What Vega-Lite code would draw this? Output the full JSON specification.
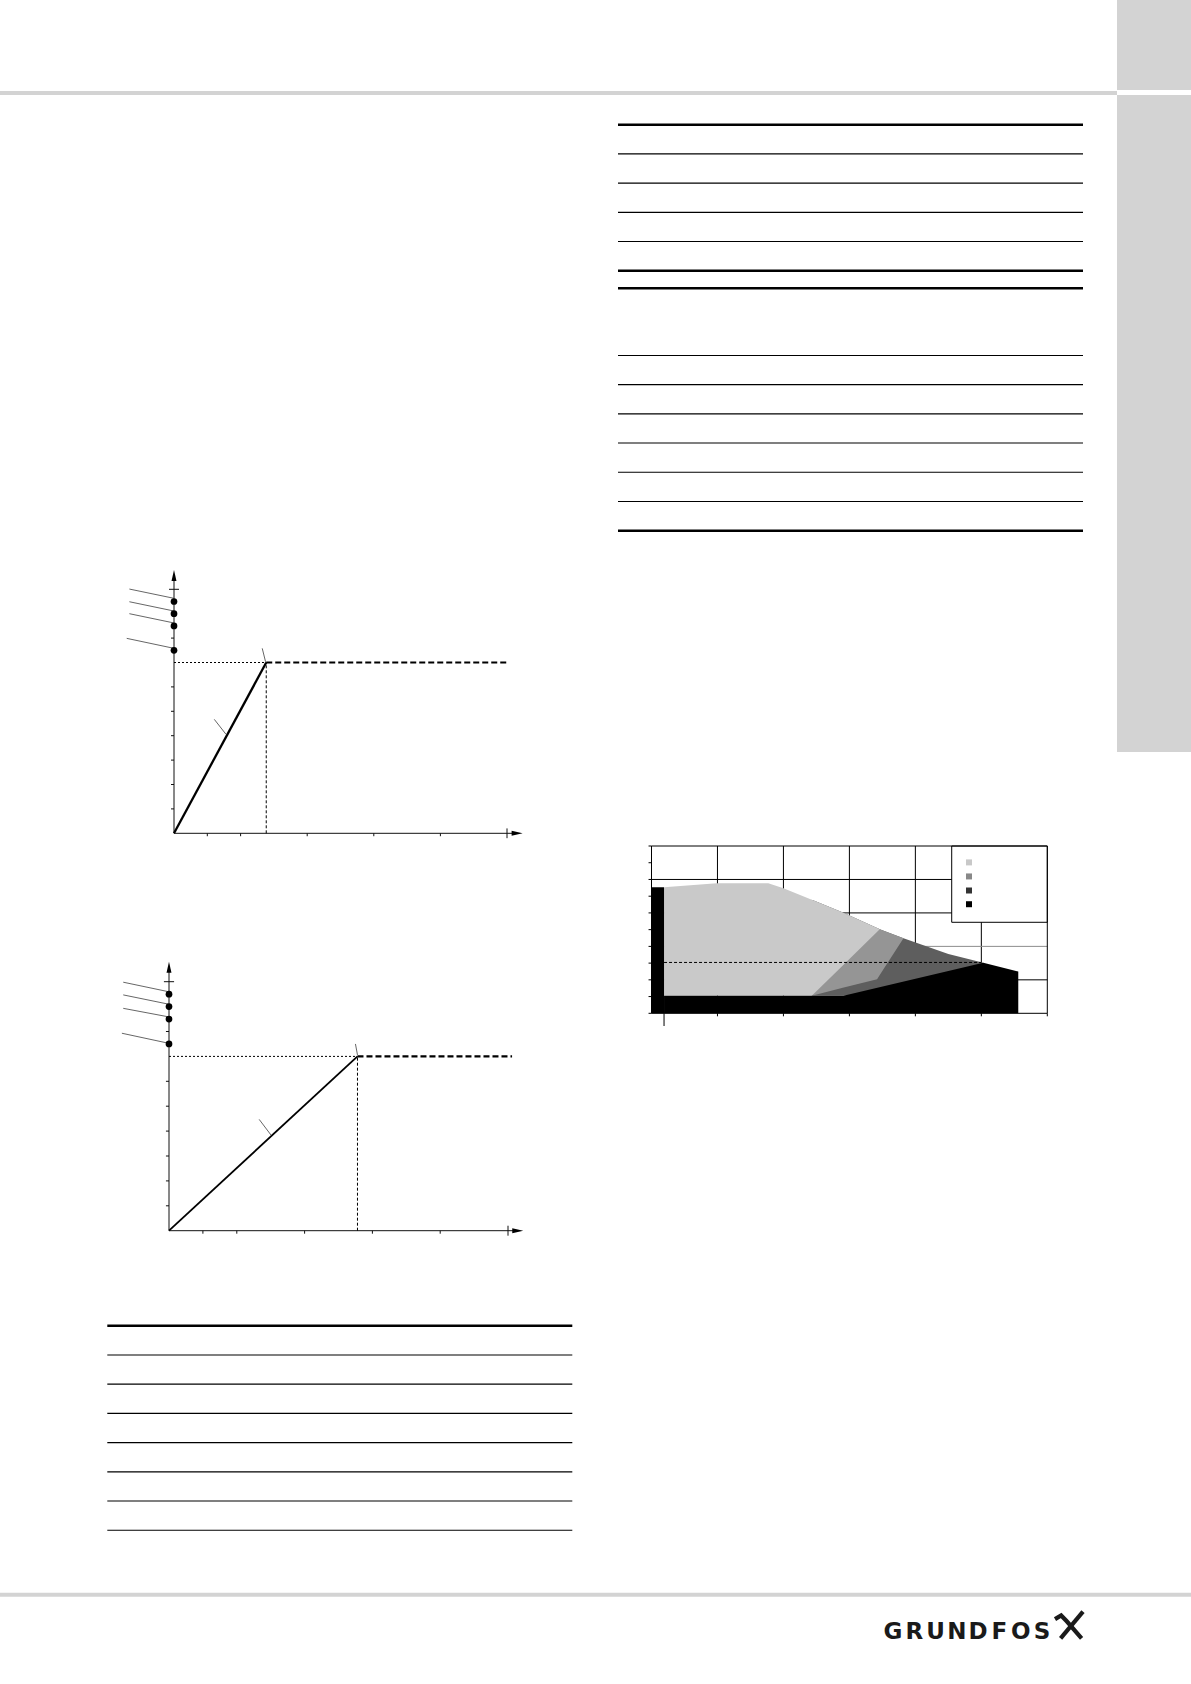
{
  "$schema": "https://vega.github.io/schema/vega-lite/v6.json",
  "width": 1191,
  "height": 1684,
  "autosize": {"type": "none"},
  "padding": 0,
  "background": "white",
  "config": {"view": {"stroke": null}},
  "resolve": {"scale": {"x": "independent", "y": "independent"}},
  "layer": [
    {
      "data": {"values": [{}]},
      "mark": {"type": "rect", "color": "#d3d3d3"},
      "encoding": {
        "x": {"datum": 0, "type": "quantitative", "scale": {"domain": [0, 1], "range": [1117, 1191]}, "axis": null},
        "x2": {"datum": 1},
        "y": {"datum": 0, "type": "quantitative", "scale": {"domain": [0, 1], "range": [0, 90]}, "axis": null},
        "y2": {"datum": 1}
      }
    },
    {
      "data": {"values": [{}]},
      "mark": {"type": "rect", "color": "#d3d3d3"},
      "encoding": {
        "x": {"datum": 0, "type": "quantitative", "scale": {"domain": [0, 1], "range": [1117, 1191]}, "axis": null},
        "x2": {"datum": 1},
        "y": {"datum": 0, "type": "quantitative", "scale": {"domain": [0, 1], "range": [95, 752]}, "axis": null},
        "y2": {"datum": 1}
      }
    },
    {
      "data": {"values": [{}]},
      "mark": {"type": "rect", "color": "#d3d3d3"},
      "encoding": {
        "x": {"datum": 0, "type": "quantitative", "scale": {"domain": [0, 1], "range": [0, 1117]}, "axis": null},
        "x2": {"datum": 1},
        "y": {"datum": 0, "type": "quantitative", "scale": {"domain": [0, 1], "range": [91, 95]}, "axis": null},
        "y2": {"datum": 1}
      }
    },
    {
      "data": {"values": [{}]},
      "mark": {"type": "rect", "color": "#d3d3d3"},
      "encoding": {
        "x": {"datum": 0, "type": "quantitative", "scale": {"domain": [0, 1], "range": [0, 1191]}, "axis": null},
        "x2": {"datum": 1},
        "y": {"datum": 0, "type": "quantitative", "scale": {"domain": [0, 1], "range": [1592.7, 1596.7]}, "axis": null},
        "y2": {"datum": 1}
      }
    },
    {
      "data": {
        "values": [
          {"r": 0, "kind": "edge"},
          {"r": 1, "kind": "row"},
          {"r": 2, "kind": "row"},
          {"r": 3, "kind": "row"},
          {"r": 4, "kind": "row"},
          {"r": 5, "kind": "edge"},
          {"r": 5.6, "kind": "edge"},
          {"r": 7.9, "kind": "row"},
          {"r": 8.9, "kind": "row"},
          {"r": 9.9, "kind": "row"},
          {"r": 10.9, "kind": "row"},
          {"r": 11.9, "kind": "row"},
          {"r": 12.9, "kind": "row"},
          {"r": 13.9, "kind": "edge"}
        ]
      },
      "encoding": {
        "x": {"datum": 0, "type": "quantitative", "scale": {"domain": [0, 1], "range": [618, 1083]}, "axis": null},
        "x2": {"datum": 1},
        "y": {"field": "r", "type": "quantitative", "scale": {"domain": [0, 13.9], "range": [124.7, 530.7], "nice": false, "zero": false}, "axis": null}
      },
      "layer": [
        {"transform": [{"filter": "datum.kind == 'edge'"}], "mark": {"type": "rule", "color": "black", "strokeWidth": 2.4}},
        {"transform": [{"filter": "datum.kind == 'row'"}], "mark": {"type": "rule", "color": "black", "strokeWidth": 1.1}}
      ]
    },
    {
      "data": {
        "values": [
          {"r": 0, "kind": "edge"},
          {"r": 1, "kind": "row"},
          {"r": 2, "kind": "row"},
          {"r": 3, "kind": "row"},
          {"r": 4, "kind": "row"},
          {"r": 5, "kind": "row"},
          {"r": 6, "kind": "row"},
          {"r": 7, "kind": "row"}
        ]
      },
      "encoding": {
        "x": {"datum": 0, "type": "quantitative", "scale": {"domain": [0, 1], "range": [107.3, 572.3]}, "axis": null},
        "x2": {"datum": 1},
        "y": {"field": "r", "type": "quantitative", "scale": {"domain": [0, 7], "range": [1325.7, 1530.3], "nice": false, "zero": false}, "axis": null}
      },
      "layer": [
        {"transform": [{"filter": "datum.kind == 'edge'"}], "mark": {"type": "rule", "color": "black", "strokeWidth": 2.4}},
        {"transform": [{"filter": "datum.kind == 'row'"}], "mark": {"type": "rule", "color": "black", "strokeWidth": 1.1}}
      ]
    },
    {
      "encoding": {
        "x": {"field": "x", "type": "quantitative", "scale": {"domain": [0, 100], "range": [174, 507], "nice": false, "zero": false}, "axis": null},
        "y": {"field": "y", "type": "quantitative", "scale": {"domain": [0, 100], "range": [833.3, 589.3], "nice": false, "zero": false}, "axis": null}
      },
      "layer": [
        {
          "data": {
            "values": [
              {"x": 0, "y": 0, "x2": 103, "y2": 0},
              {"x": 0, "y": 0, "x2": 0, "y2": 106},
              {"x": 100, "y": -2, "x2": 100, "y2": 2},
              {"x": -1.5, "y": 100, "x2": 1.5, "y2": 100},
              {"x": 10, "y": 0, "x2": 10, "y2": -1.2},
              {"x": 20, "y": 0, "x2": 20, "y2": -1.2},
              {"x": 40, "y": 0, "x2": 40, "y2": -1.2},
              {"x": 60, "y": 0, "x2": 60, "y2": -1.2},
              {"x": 80, "y": 0, "x2": 80, "y2": -1.2},
              {"x": 0, "y": 10, "x2": -0.9, "y2": 10},
              {"x": 0, "y": 20, "x2": -0.9, "y2": 20},
              {"x": 0, "y": 30, "x2": -0.9, "y2": 30},
              {"x": 0, "y": 40, "x2": -0.9, "y2": 40},
              {"x": 0, "y": 50, "x2": -0.9, "y2": 50},
              {"x": 0, "y": 60, "x2": -0.9, "y2": 60},
              {"x": 0, "y": 80, "x2": -0.9, "y2": 80}
            ]
          },
          "mark": {"type": "rule", "color": "#111111", "strokeWidth": 1},
          "encoding": {"x2": {"field": "x2"}, "y2": {"field": "y2"}}
        },
        {
          "data": {"values": [{"x": 104.7, "y": 0}]},
          "mark": {"type": "point", "shape": "M0,0L-2,-0.45L-2,0.45Z", "size": 121, "filled": true, "color": "black", "opacity": 1}
        },
        {
          "data": {"values": [{"x": 0, "y": 107.9}]},
          "mark": {"type": "point", "shape": "M0,0L-0.45,2L0.45,2Z", "size": 121, "filled": true, "color": "black", "opacity": 1}
        },
        {
          "data": {"values": [{"x": 0, "y": 70, "x2": 27.7, "y2": 70}]},
          "mark": {"type": "rule", "color": "black", "strokeWidth": 1, "strokeDash": [2, 2]},
          "encoding": {"x2": {"field": "x2"}, "y2": {"field": "y2"}}
        },
        {
          "data": {"values": [{"x": 27.7, "y": 0, "x2": 27.7, "y2": 70}]},
          "mark": {"type": "rule", "color": "black", "strokeWidth": 1, "strokeDash": [3, 2]},
          "encoding": {"x2": {"field": "x2"}, "y2": {"field": "y2"}}
        },
        {
          "data": {"values": [{"x": 27.7, "y": 70, "x2": 100.6, "y2": 70}]},
          "mark": {"type": "rule", "color": "black", "strokeWidth": 2.2, "strokeDash": [6, 3]},
          "encoding": {"x2": {"field": "x2"}, "y2": {"field": "y2"}}
        },
        {
          "data": {"values": [{"x": 0, "y": 0}, {"x": 27.7, "y": 70}]},
          "mark": {"type": "line", "color": "black", "strokeWidth": 2.3}
        },
        {
          "data": {
            "values": [
              {"x": -13.4, "y": 100.1, "x2": 0, "y2": 96.3},
              {"x": -13.4, "y": 94.9, "x2": 0, "y2": 91.1},
              {"x": -13.4, "y": 90, "x2": 0, "y2": 86.2},
              {"x": -14.2, "y": 79.9, "x2": 0, "y2": 75.8},
              {"x": 12.1, "y": 46.7, "x2": 15.6, "y2": 40.6},
              {"x": 26.5, "y": 75.8, "x2": 27.5, "y2": 70.3}
            ]
          },
          "mark": {"type": "rule", "color": "#555555", "strokeWidth": 0.9},
          "encoding": {"x2": {"field": "x2"}, "y2": {"field": "y2"}}
        },
        {
          "data": {"values": [{"x": 0, "y": 95}, {"x": 0, "y": 90}, {"x": 0, "y": 85}, {"x": 0, "y": 75}]},
          "mark": {"type": "circle", "size": 45, "color": "black", "opacity": 1}
        }
      ]
    },
    {
      "encoding": {
        "x": {"field": "x", "type": "quantitative", "scale": {"domain": [0, 100], "range": [169, 508], "nice": false, "zero": false}, "axis": null},
        "y": {"field": "y", "type": "quantitative", "scale": {"domain": [0, 100], "range": [1230.7, 981.7], "nice": false, "zero": false}, "axis": null}
      },
      "layer": [
        {
          "data": {
            "values": [
              {"x": 0, "y": 0, "x2": 103, "y2": 0},
              {"x": 0, "y": 0, "x2": 0, "y2": 106},
              {"x": 100, "y": -2, "x2": 100, "y2": 2},
              {"x": -1.5, "y": 100, "x2": 1.5, "y2": 100},
              {"x": 10, "y": 0, "x2": 10, "y2": -1.2},
              {"x": 20, "y": 0, "x2": 20, "y2": -1.2},
              {"x": 40, "y": 0, "x2": 40, "y2": -1.2},
              {"x": 60, "y": 0, "x2": 60, "y2": -1.2},
              {"x": 80, "y": 0, "x2": 80, "y2": -1.2},
              {"x": 0, "y": 10, "x2": -0.9, "y2": 10},
              {"x": 0, "y": 20, "x2": -0.9, "y2": 20},
              {"x": 0, "y": 30, "x2": -0.9, "y2": 30},
              {"x": 0, "y": 40, "x2": -0.9, "y2": 40},
              {"x": 0, "y": 50, "x2": -0.9, "y2": 50},
              {"x": 0, "y": 60, "x2": -0.9, "y2": 60},
              {"x": 0, "y": 80, "x2": -0.9, "y2": 80}
            ]
          },
          "mark": {"type": "rule", "color": "#111111", "strokeWidth": 1},
          "encoding": {"x2": {"field": "x2"}, "y2": {"field": "y2"}}
        },
        {
          "data": {"values": [{"x": 104.5, "y": 0}]},
          "mark": {"type": "point", "shape": "M0,0L-2,-0.45L-2,0.45Z", "size": 121, "filled": true, "color": "black", "opacity": 1}
        },
        {
          "data": {"values": [{"x": 0, "y": 108}]},
          "mark": {"type": "point", "shape": "M0,0L-0.45,2L0.45,2Z", "size": 121, "filled": true, "color": "black", "opacity": 1}
        },
        {
          "data": {"values": [{"x": 0, "y": 70, "x2": 55.6, "y2": 70}]},
          "mark": {"type": "rule", "color": "black", "strokeWidth": 1, "strokeDash": [2, 2]},
          "encoding": {"x2": {"field": "x2"}, "y2": {"field": "y2"}}
        },
        {
          "data": {"values": [{"x": 55.6, "y": 0, "x2": 55.6, "y2": 70}]},
          "mark": {"type": "rule", "color": "black", "strokeWidth": 1, "strokeDash": [3, 2]},
          "encoding": {"x2": {"field": "x2"}, "y2": {"field": "y2"}}
        },
        {
          "data": {"values": [{"x": 55.6, "y": 70, "x2": 101.2, "y2": 70}]},
          "mark": {"type": "rule", "color": "black", "strokeWidth": 2.2, "strokeDash": [6, 3]},
          "encoding": {"x2": {"field": "x2"}, "y2": {"field": "y2"}}
        },
        {
          "data": {"values": [{"x": 0, "y": 0}, {"x": 55.6, "y": 70}]},
          "mark": {"type": "line", "color": "black", "strokeWidth": 1.8}
        },
        {
          "data": {
            "values": [
              {"x": -13.5, "y": 99.8, "x2": -0.2, "y2": 96},
              {"x": -13.5, "y": 94.7, "x2": -0.2, "y2": 91},
              {"x": -13.5, "y": 89.3, "x2": -0.2, "y2": 85.9},
              {"x": -13.9, "y": 79.3, "x2": -0.2, "y2": 75.3},
              {"x": 26.6, "y": 44.7, "x2": 30.1, "y2": 38.4},
              {"x": 55, "y": 75, "x2": 55.6, "y2": 70.6}
            ]
          },
          "mark": {"type": "rule", "color": "#555555", "strokeWidth": 0.9},
          "encoding": {"x2": {"field": "x2"}, "y2": {"field": "y2"}}
        },
        {
          "data": {"values": [{"x": 0, "y": 95}, {"x": 0, "y": 90}, {"x": 0, "y": 85}, {"x": 0, "y": 75}]},
          "mark": {"type": "circle", "size": 45, "color": "black", "opacity": 1}
        }
      ]
    },
    {
      "encoding": {
        "x": {"field": "x", "type": "quantitative", "scale": {"domain": [0, 6], "range": [651.5, 1047.3], "nice": false, "zero": false}, "axis": null},
        "y": {"field": "y", "type": "quantitative", "scale": {"domain": [0, 5], "range": [1013.3, 846], "nice": false, "zero": false}, "axis": null}
      },
      "layer": [
        {
          "data": {
            "values": [
              {"x": 1, "y": 0, "x2": 1, "y2": 5},
              {"x": 2, "y": 0, "x2": 2, "y2": 5},
              {"x": 3, "y": 0, "x2": 3, "y2": 5},
              {"x": 4, "y": 0, "x2": 4, "y2": 5},
              {"x": 5, "y": 0, "x2": 5, "y2": 5},
              {"x": 0, "y": 1, "x2": 6, "y2": 1},
              {"x": 0, "y": 3, "x2": 6, "y2": 3},
              {"x": 0, "y": 4, "x2": 6, "y2": 4}
            ]
          },
          "mark": {"type": "rule", "color": "black", "strokeWidth": 1},
          "encoding": {"x2": {"field": "x2"}, "y2": {"field": "y2"}}
        },
        {
          "data": {"values": [{"x": 0, "y": 2, "x2": 6, "y2": 2}]},
          "mark": {"type": "rule", "color": "#8c8c8c", "strokeWidth": 1},
          "encoding": {"x2": {"field": "x2"}, "y2": {"field": "y2"}}
        },
        {
          "data": {
            "values": [
              {"x": 2.43, "y": 3.391, "y2": 0.526},
              {"x": 2.9, "y": 3.01, "y2": 0.526},
              {"x": 3.46, "y": 2.51, "y2": 0.526},
              {"x": 3.82, "y": 2.24, "y2": 0.526},
              {"x": 4.5, "y": 1.77, "y2": 0.526},
              {"x": 5.03, "y": 1.51, "y2": 0.526}
            ]
          },
          "mark": {"type": "area", "color": "#5e5e5e", "opacity": 1},
          "encoding": {"y2": {"field": "y2"}}
        },
        {
          "data": {
            "values": [
              {"x": 2.43, "y": 3.391, "y2": 0.526},
              {"x": 2.9, "y": 3.01, "y2": 0.761},
              {"x": 3.42, "y": 2.546, "y2": 1.02},
              {"x": 3.46, "y": 2.51, "y2": 1.142},
              {"x": 3.82, "y": 2.24, "y2": 2.24}
            ]
          },
          "mark": {"type": "area", "color": "#959595", "opacity": 1},
          "encoding": {"y2": {"field": "y2"}}
        },
        {
          "data": {
            "values": [
              {"x": 0.19, "y": 3.77, "y2": 0.526},
              {"x": 0.99, "y": 3.885, "y2": 0.526},
              {"x": 1.77, "y": 3.885, "y2": 0.526},
              {"x": 2.0, "y": 3.74, "y2": 0.526},
              {"x": 2.43, "y": 3.391, "y2": 0.526},
              {"x": 2.9, "y": 3.01, "y2": 1.431},
              {"x": 3.46, "y": 2.51, "y2": 2.51}
            ]
          },
          "mark": {"type": "area", "color": "#c9c9c9", "opacity": 1},
          "encoding": {"y2": {"field": "y2"}}
        },
        {
          "data": {
            "values": [
              {"x": 0.19, "y": 0.526, "y2": 0},
              {"x": 2.91, "y": 0.526, "y2": 0},
              {"x": 5.03, "y": 1.51, "y2": 0},
              {"x": 5.56, "y": 1.25, "y2": 0}
            ]
          },
          "mark": {"type": "area", "color": "black", "opacity": 1},
          "encoding": {"y2": {"field": "y2"}}
        },
        {
          "data": {"values": [{"x": 0, "x2": 0.19, "y": 0, "y2": 3.77}]},
          "mark": {"type": "rect", "color": "black"},
          "encoding": {"x2": {"field": "x2"}, "y2": {"field": "y2"}}
        },
        {
          "data": {"values": [{"x": 0.19, "y": 1.52, "x2": 5.0, "y2": 1.52}]},
          "mark": {"type": "rule", "color": "black", "strokeWidth": 1, "strokeDash": [3, 2]},
          "encoding": {"x2": {"field": "x2"}, "y2": {"field": "y2"}}
        },
        {
          "data": {"values": [{"x": 4.551, "x2": 6, "y": 2.72, "y2": 5}]},
          "mark": {"type": "rect", "fill": "white", "stroke": "black", "strokeWidth": 1},
          "encoding": {"x2": {"field": "x2"}, "y2": {"field": "y2"}}
        },
        {
          "data": {
            "values": [
              {"series": "A", "x": 4.813, "y": 4.51},
              {"series": "B", "x": 4.813, "y": 4.09},
              {"series": "C", "x": 4.813, "y": 3.67},
              {"series": "D", "x": 4.813, "y": 3.26}
            ]
          },
          "mark": {"type": "square", "size": 36, "opacity": 1},
          "encoding": {
            "color": {
              "field": "series",
              "type": "nominal",
              "scale": {"domain": ["A", "B", "C", "D"], "range": ["#c8c8c8", "#888888", "#333333", "#000000"]},
              "legend": null
            }
          }
        },
        {
          "data": {"values": [{"x": 0, "x2": 6, "y": 0, "y2": 5}]},
          "mark": {"type": "rect", "filled": false, "stroke": "black", "strokeWidth": 1},
          "encoding": {"x2": {"field": "x2"}, "y2": {"field": "y2"}}
        },
        {
          "data": {
            "values": [
              {"x": 0, "y": 0, "x2": -0.045, "y2": 0},
              {"x": 0, "y": 0.5, "x2": -0.045, "y2": 0.5},
              {"x": 0, "y": 1, "x2": -0.045, "y2": 1},
              {"x": 0, "y": 1.5, "x2": -0.045, "y2": 1.5},
              {"x": 0, "y": 2, "x2": -0.045, "y2": 2},
              {"x": 0, "y": 2.5, "x2": -0.045, "y2": 2.5},
              {"x": 0, "y": 3, "x2": -0.045, "y2": 3},
              {"x": 0, "y": 3.5, "x2": -0.045, "y2": 3.5},
              {"x": 0, "y": 4, "x2": -0.045, "y2": 4},
              {"x": 0, "y": 4.5, "x2": -0.045, "y2": 4.5},
              {"x": 0, "y": 5, "x2": -0.045, "y2": 5},
              {"x": 1, "y": 0, "x2": 1, "y2": -0.09},
              {"x": 2, "y": 0, "x2": 2, "y2": -0.09},
              {"x": 3, "y": 0, "x2": 3, "y2": -0.09},
              {"x": 4, "y": 0, "x2": 4, "y2": -0.09},
              {"x": 5, "y": 0, "x2": 5, "y2": -0.09},
              {"x": 6, "y": 0, "x2": 6, "y2": -0.09},
              {"x": 0.19, "y": 0, "x2": 0.19, "y2": -0.38}
            ]
          },
          "mark": {"type": "rule", "color": "black", "strokeWidth": 1},
          "encoding": {"x2": {"field": "x2"}, "y2": {"field": "y2"}}
        }
      ]
    },
    {
      "data": {
        "values": [
          {"ch": "G", "i": 0},
          {"ch": "R", "i": 1},
          {"ch": "U", "i": 2},
          {"ch": "N", "i": 3},
          {"ch": "D", "i": 4},
          {"ch": "F", "i": 5},
          {"ch": "O", "i": 6},
          {"ch": "S", "i": 7}
        ]
      },
      "mark": {"type": "text", "font": "DejaVu Sans", "fontWeight": 900, "fontSize": 23, "align": "center", "baseline": "alphabetic", "color": "#1a1a1a"},
      "encoding": {
        "x": {"field": "i", "type": "quantitative", "scale": {"domain": [0, 7], "range": [893, 1042], "nice": false, "zero": false}, "axis": null},
        "y": {"datum": 0, "type": "quantitative", "scale": {"domain": [0, 1], "range": [1639, 1625]}, "axis": null},
        "text": {"field": "ch", "type": "nominal"}
      }
    },
    {
      "data": {
        "values": [
          {"s": "a", "x": 0.2, "y": 0},
          {"s": "a", "x": 1.0, "y": 1.0},
          {"s": "b", "x": 0.0, "y": 0.72},
          {"s": "b", "x": 0.22, "y": 0.86},
          {"s": "b", "x": 0.42, "y": 0.64},
          {"s": "b", "x": 0.95, "y": 0.0}
        ]
      },
      "mark": {"type": "line", "color": "#1a1a1a", "strokeWidth": 4.2},
      "encoding": {
        "x": {"field": "x", "type": "quantitative", "scale": {"domain": [0, 1], "range": [1055, 1083], "nice": false, "zero": false}, "axis": null},
        "y": {"field": "y", "type": "quantitative", "scale": {"domain": [0, 1], "range": [1638.3, 1611.7], "nice": false, "zero": false}, "axis": null},
        "detail": {"field": "s", "type": "nominal"}
      }
    }
  ]
}
